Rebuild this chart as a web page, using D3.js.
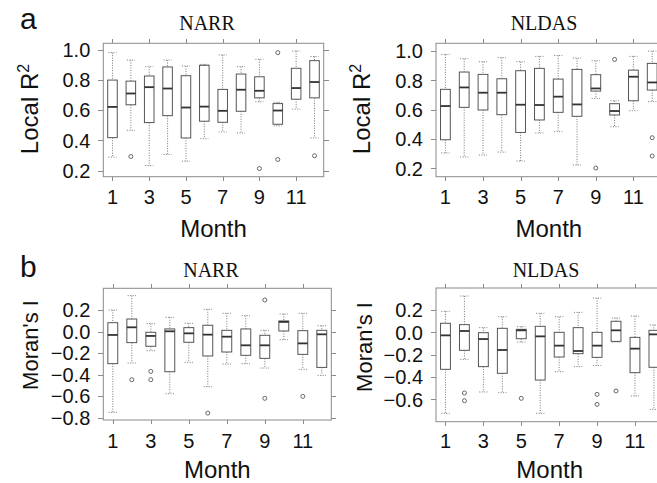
<!DOCTYPE html>
<meta charset="utf-8">
<style>
body { margin: 0; background: #fff; }
svg { display: block; }
.frame { fill: none; stroke: #8a8a8a; stroke-width: 1; }
.tick { stroke: #8a8a8a; stroke-width: 1; shape-rendering: crispEdges; }
.ticklab { font: 20px "Liberation Sans", Arial, sans-serif; fill: #111; }
.axlab { font: 24px "Liberation Sans", Arial, sans-serif; fill: #111; }
.title { font: 20px "Liberation Serif", "Times New Roman", serif; fill: #111; }
.letter { font: 30px "Liberation Sans", Arial, sans-serif; fill: #111; }
.box { fill: #fff; stroke: #555; stroke-width: 1; }
.med { stroke: #333; stroke-width: 1.8; }
.whisk { stroke: #777; stroke-width: 1; stroke-dasharray: 1,1.5; }
.out { fill: none; stroke: #666; stroke-width: 1; }
</style>
<body>
<script src="https://d3js.org/d3.v7.min.js"></script>
<script>

var months = d3.range(1, 13);
var monthLabels = [1, 3, 5, 7, 9, 11];

// each month: [lower whisker, Q1, median, Q3, upper whisker]
var narrR2 = [
  [0.289, 0.418, 0.622, 0.800, 0.982],
  [0.467, 0.636, 0.711, 0.793, 0.933],
  [0.233, 0.518, 0.753, 0.827, 0.889],
  [0.307, 0.564, 0.744, 0.887, 0.933],
  [0.262, 0.416, 0.618, 0.829, 0.893],
  [0.411, 0.527, 0.624, 0.898, 0.904],
  [0.456, 0.520, 0.596, 0.738, 0.967],
  [0.449, 0.593, 0.736, 0.840, 0.889],
  [0.656, 0.682, 0.729, 0.822, 0.938],
  [0.496, 0.507, 0.598, 0.644, 0.653],
  [0.607, 0.673, 0.747, 0.878, 0.993],
  [0.416, 0.682, 0.787, 0.929, 0.956]
];
var narrR2Out = [[], [0.293], [], [], [], [], [], [], [0.213], [0.982, 0.273], [], [0.298]];

var nldasR2 = [
  [0.305, 0.395, 0.625, 0.739, 0.977],
  [0.277, 0.616, 0.752, 0.857, 0.948],
  [0.291, 0.598, 0.716, 0.841, 0.927],
  [0.311, 0.566, 0.716, 0.811, 0.955],
  [0.250, 0.445, 0.634, 0.866, 0.927],
  [0.441, 0.530, 0.632, 0.882, 0.964],
  [0.450, 0.582, 0.689, 0.809, 0.970],
  [0.223, 0.555, 0.636, 0.875, 0.952],
  [0.677, 0.727, 0.745, 0.839, 0.934],
  [0.484, 0.564, 0.591, 0.641, 0.661],
  [0.593, 0.661, 0.825, 0.870, 0.964],
  [0.655, 0.734, 0.786, 0.916, 1.000]
];
var nldasR2Out = [[], [], [], [], [], [], [], [], [0.202], [0.943], [], [0.409, 0.284]];

var narrMoran = [
  [-0.750, -0.298, -0.032, 0.082, 0.200],
  [-0.292, -0.103, 0.039, 0.116, 0.333],
  [-0.178, -0.137, -0.041, -0.007, 0.073],
  [-0.577, -0.373, 0.002, 0.024, 0.132],
  [-0.286, -0.100, -0.017, 0.036, 0.076],
  [-0.512, -0.227, -0.029, 0.058, 0.206],
  [-0.302, -0.190, -0.048, 0.011, 0.169],
  [-0.298, -0.221, -0.128, 0.024, 0.147],
  [-0.339, -0.249, -0.128, -0.035, 0.011],
  [-0.076, 0.005, 0.089, 0.098, 0.163],
  [-0.351, -0.212, -0.110, 0.008, 0.169],
  [-0.407, -0.333, -0.026, 0.011, 0.054]
];
var narrMoranOut = [[], [-0.447], [-0.370, -0.447], [], [], [-0.757], [], [], [0.293, -0.620], [], [-0.602], []];

var nldasMoran = [
  [-0.725, -0.331, -0.027, 0.081, 0.188],
  [-0.242, -0.161, 0.012, 0.069, 0.325],
  [-0.534, -0.307, -0.060, -0.003, 0.042],
  [-0.540, -0.367, -0.158, 0.036, 0.140],
  [-0.087, -0.057, 0.018, 0.027, 0.051],
  [-0.725, -0.427, -0.036, 0.054, 0.170],
  [-0.352, -0.221, -0.119, 0.000, 0.140],
  [-0.307, -0.191, -0.167, 0.042, 0.179],
  [-0.296, -0.224, -0.119, 0.000, 0.307],
  [-0.087, -0.081, 0.018, 0.099, 0.128],
  [-0.570, -0.361, -0.146, -0.045, 0.146],
  [-0.690, -0.313, -0.018, 0.018, 0.066]
];
var nldasMoranOut = [[], [-0.543, -0.612], [], [], [-0.591], [], [], [], [-0.555, -0.645], [-0.525], [], []];

var r2Ticks = [0.2, 0.4, 0.6, 0.8, 1.0];
var moranTicksNarr = [-0.8, -0.6, -0.4, -0.2, 0.0, 0.2];
var moranTicksNldas = [-0.6, -0.4, -0.2, 0.0, 0.2];

var W = 657, H = 483;
var svg = d3.select("body").append("svg").attr("width", W).attr("height", H);

var panels = [
  {stats: narrR2, out: narrR2Out, title: "NARR", yTicks: r2Ticks, ylab: "r2",
   x0: 103.3, x1: 323.7, y0: 43.3, y1: 176.7, dom: [0.159, 1.044],
   titleX: 207, titleY: 29.5, ylabX: 38, ylabY: 109, xlabY: 203.5, monthY: 237},
  {stats: nldasR2, out: nldasR2Out, title: "NLDAS", yTicks: r2Ticks, ylab: "r2",
   x0: 436, x1: 661.6, y0: 43.3, y1: 176.7, dom: [0.143, 1.053],
   titleX: 544, titleY: 29.5, ylabX: 370, ylabY: 109, xlabY: 203.5, monthY: 237},
  {stats: narrMoran, out: narrMoranOut, title: "NARR", yTicks: moranTicksNarr, ylab: "moran",
   x0: 103.3, x1: 331.3, y0: 288.3, y1: 420, dom: [-0.821, 0.401],
   titleX: 211, titleY: 277, ylabX: 38, ylabY: 345, xlabY: 447.5, monthY: 478},
  {stats: nldasMoran, out: nldasMoranOut, title: "NLDAS", yTicks: moranTicksNldas, ylab: "moran",
   x0: 436, x1: 663.4, y0: 288, y1: 421.7, dom: [-0.80, 0.397],
   titleX: 546, titleY: 277, ylabX: 372, ylabY: 347, xlabY: 447.5, monthY: 478}
];

panels.forEach(function(p) {
  var x = d3.scaleLinear().domain([0.5, 12.5]).range([p.x0, p.x1]);
  var y = d3.scaleLinear().domain(p.dom).range([p.y1, p.y0]);
  var step = x(2) - x(1);
  var bw = step * 0.52;
  var g = svg.append("g");

  // ticks on all four sides
  var yFmt = d3.format(".1f");
  p.yTicks.forEach(function(t) {
    g.append("line").attr("class", "tick").attr("x1", p.x0 - 5).attr("x2", p.x0)
      .attr("y1", Math.round(y(t)) + 0.5).attr("y2", Math.round(y(t)) + 0.5);
    g.append("line").attr("class", "tick").attr("x1", p.x1).attr("x2", p.x1 + 5)
      .attr("y1", Math.round(y(t)) + 0.5).attr("y2", Math.round(y(t)) + 0.5);
    g.append("text").attr("class", "ticklab").attr("x", p.x0 - 13).attr("y", y(t))
      .attr("dy", "0.36em").attr("text-anchor", "end").text(yFmt(t).replace("-0.0", "0.0"));
  });
  monthLabels.forEach(function(m) {
    g.append("line").attr("class", "tick").attr("x1", Math.round(x(m)) + 0.5).attr("x2", Math.round(x(m)) + 0.5)
      .attr("y1", p.y1).attr("y2", p.y1 + 4);
    g.append("line").attr("class", "tick").attr("x1", Math.round(x(m)) + 0.5).attr("x2", Math.round(x(m)) + 0.5)
      .attr("y1", p.y0 - 4).attr("y2", p.y0);
    g.append("text").attr("class", "ticklab").attr("x", x(m)).attr("y", p.xlabY)
      .attr("text-anchor", "middle").text(m);
  });

  g.append("rect").attr("class", "frame")
    .attr("x", p.x0).attr("y", p.y0).attr("width", p.x1 - p.x0).attr("height", p.y1 - p.y0);

  // boxes
  var b = g.selectAll("g.bx").data(p.stats).enter().append("g").attr("class", "bx");
  b.append("line").attr("class", "whisk")
    .attr("x1", function(d, i) { return x(months[i]); }).attr("x2", function(d, i) { return x(months[i]); })
    .attr("y1", function(d) { return y(d[4]); }).attr("y2", function(d) { return y(d[3]); });
  b.append("line").attr("class", "whisk")
    .attr("x1", function(d, i) { return x(months[i]); }).attr("x2", function(d, i) { return x(months[i]); })
    .attr("y1", function(d) { return y(d[1]); }).attr("y2", function(d) { return y(d[0]); });
  [0, 4].forEach(function(k) {
    b.append("line").attr("class", "whisk")
      .attr("x1", function(d, i) { return x(months[i]) - bw * 0.42; })
      .attr("x2", function(d, i) { return x(months[i]) + bw * 0.42; })
      .attr("y1", function(d) { return y(d[k]); }).attr("y2", function(d) { return y(d[k]); });
  });
  b.append("rect").attr("class", "box")
    .attr("x", function(d, i) { return x(months[i]) - bw / 2; }).attr("width", bw)
    .attr("y", function(d) { return y(d[3]); })
    .attr("height", function(d) { return y(d[1]) - y(d[3]); });
  b.append("line").attr("class", "med")
    .attr("x1", function(d, i) { return x(months[i]) - bw / 2; })
    .attr("x2", function(d, i) { return x(months[i]) + bw / 2; })
    .attr("y1", function(d) { return y(d[2]); }).attr("y2", function(d) { return y(d[2]); });

  p.out.forEach(function(arr, i) {
    arr.forEach(function(v) {
      g.append("circle").attr("class", "out").attr("cx", x(months[i])).attr("cy", y(v)).attr("r", 2);
    });
  });

  // labels
  g.append("text").attr("class", "title").attr("x", p.titleX).attr("y", p.titleY)
    .attr("text-anchor", "middle").text(p.title);
  g.append("text").attr("class", "axlab").attr("x", (p.x0 + p.x1) / 2).attr("y", p.monthY)
    .attr("text-anchor", "middle").text("Month");
  var yl = g.append("text").attr("class", "axlab")
    .attr("transform", "translate(" + p.ylabX + "," + p.ylabY + ") rotate(-90)")
    .attr("text-anchor", "middle");
  if (p.ylab === "r2") {
    yl.append("tspan").text("Local R");
    yl.append("tspan").attr("dy", "-0.55em").style("font-size", "16px").text("2");
  } else {
    yl.style("font-size", "22px").text("Moran's I");
  }
});

svg.append("text").attr("class", "letter").attr("x", 20).attr("y", 29).text("a");
svg.append("text").attr("class", "letter").attr("x", 20).attr("y", 277).text("b");

</script>
</body>
